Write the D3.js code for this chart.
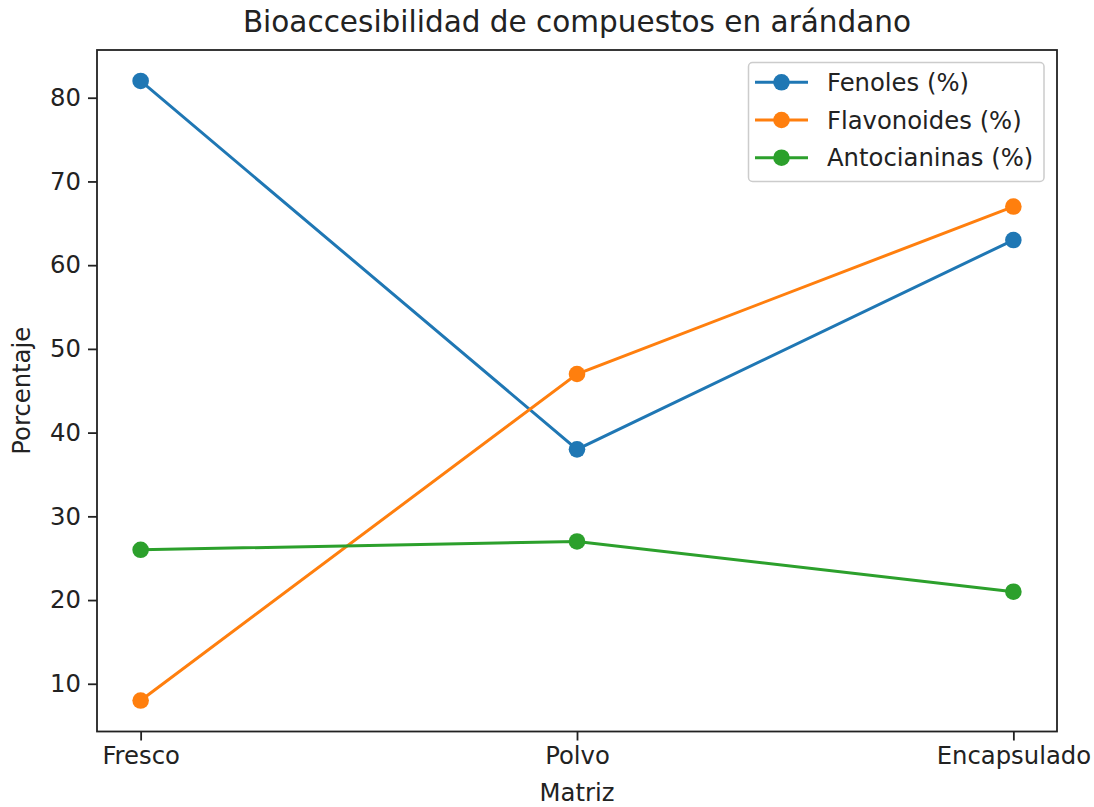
<!DOCTYPE html>
<html>
<head>
<meta charset="utf-8">
<script src="https://cdn.jsdelivr.net/npm/d3@7"></script>
<style>
  html, body { margin: 0; padding: 0; background: #fff; }
  svg { display: block; font-family: "DejaVu Sans", sans-serif; }
</style>
</head>
<body>
<svg id="chart" width="1094" height="807"></svg>
<script>
// Matrices and bioaccessibility percentages per compound group
const categories = ["Fresco", "Polvo", "Encapsulado"];
const fenoles = [82, 38, 63];
const flavonoides = [8, 47, 67];
const antocianinas = [26, 27, 21];
const seriesNames = ["Fenoles (%)", "Flavonoides (%)", "Antocianinas (%)"];
const seriesColors = ["#1f77b4", "#ff7f0e", "#2ca02c"];
const yTicks = [10, 20, 30, 40, 50, 60, 70, 80];

const series = [fenoles, flavonoides, antocianinas].map((values, i) => ({
  name: seriesNames[i], color: seriesColors[i], values
}));

const svg = d3.select("#chart");
const margin = { left: 97, right: 1057, top: 50, bottom: 731.5 };

// 5% padding on both axes, as in the usual autoscaled plot
const allVals = series.flatMap(s => s.values);
const yMin = d3.min(allVals), yMax = d3.max(allVals);
const yPad = (yMax - yMin) * 0.05;
const y = d3.scaleLinear().domain([yMin - yPad, yMax + yPad]).range([margin.bottom, margin.top]);

const xPad = (categories.length - 1) * 0.05;
const xLin = d3.scaleLinear().domain([-xPad, categories.length - 1 + xPad]).range([margin.left, margin.right]);

const fontSize = 24.3;

// Axes
const xAxis = d3.axisBottom(xLin)
  .tickValues(d3.range(categories.length))
  .tickFormat(i => categories[i])
  .tickSize(9).tickPadding(6).tickSizeOuter(0);
const yAxis = d3.axisLeft(y)
  .tickValues(yTicks)
  .tickSize(9).tickPadding(7).tickSizeOuter(0);

const gx = svg.append("g").attr("transform", `translate(0,${margin.bottom})`).call(xAxis);
const gy = svg.append("g").attr("transform", `translate(${margin.left},0)`).call(yAxis);
[gx, gy].forEach(g => {
  g.select(".domain").remove();
  g.selectAll(".tick line").attr("stroke", "#222").attr("stroke-width", 1.8);
  g.selectAll(".tick text").attr("fill", "#222").style("font-size", fontSize + "px").attr("font-family", "DejaVu Sans");
});

// Lines and markers
const line = d3.line().x((d, i) => xLin(i)).y(d => y(d));
series.forEach(s => {
  svg.append("path").datum(s.values)
    .attr("d", line).attr("fill", "none")
    .attr("stroke", s.color).attr("stroke-width", 3);
  svg.selectAll(null).data(s.values).enter().append("circle")
    .attr("cx", (d, i) => xLin(i)).attr("cy", d => y(d))
    .attr("r", 8.3).attr("fill", s.color);
});

// Frame
svg.append("rect")
  .attr("x", margin.left).attr("y", margin.top)
  .attr("width", margin.right - margin.left).attr("height", margin.bottom - margin.top)
  .attr("fill", "none").attr("stroke", "#222").attr("stroke-width", 1.8);

// Title and axis labels
svg.append("text").attr("x", (margin.left + margin.right) / 2).attr("y", 32)
  .attr("text-anchor", "middle").attr("fill", "#222")
  .style("font-size", "29.5px").text("Bioaccesibilidad de compuestos en arándano");
svg.append("text").attr("x", (margin.left + margin.right) / 2).attr("y", 801)
  .attr("text-anchor", "middle").attr("fill", "#222")
  .style("font-size", fontSize + "px").text("Matriz");
svg.append("text")
  .attr("transform", `translate(30,${(margin.top + margin.bottom) / 2}) rotate(-90)`)
  .attr("text-anchor", "middle").attr("fill", "#222")
  .style("font-size", fontSize + "px").text("Porcentaje");

// Legend
const lg = svg.append("g");
lg.append("rect").attr("x", 748.5).attr("y", 62.5).attr("width", 295.5).attr("height", 119)
  .attr("rx", 4).attr("fill", "#fff").attr("fill-opacity", 0.8)
  .attr("stroke", "#ccc").attr("stroke-width", 1.5);
series.forEach((s, i) => {
  const yy = 82.3 + i * 37.7;
  lg.append("line").attr("x1", 755).attr("x2", 808).attr("y1", yy).attr("y2", yy)
    .attr("stroke", s.color).attr("stroke-width", 3);
  lg.append("circle").attr("cx", 781.5).attr("cy", yy).attr("r", 8.3).attr("fill", s.color);
  lg.append("text").attr("x", 827).attr("y", yy).attr("dy", "0.36em")
    .attr("fill", "#222").style("font-size", fontSize + "px").text(s.name);
});
</script>
</body>
</html>
